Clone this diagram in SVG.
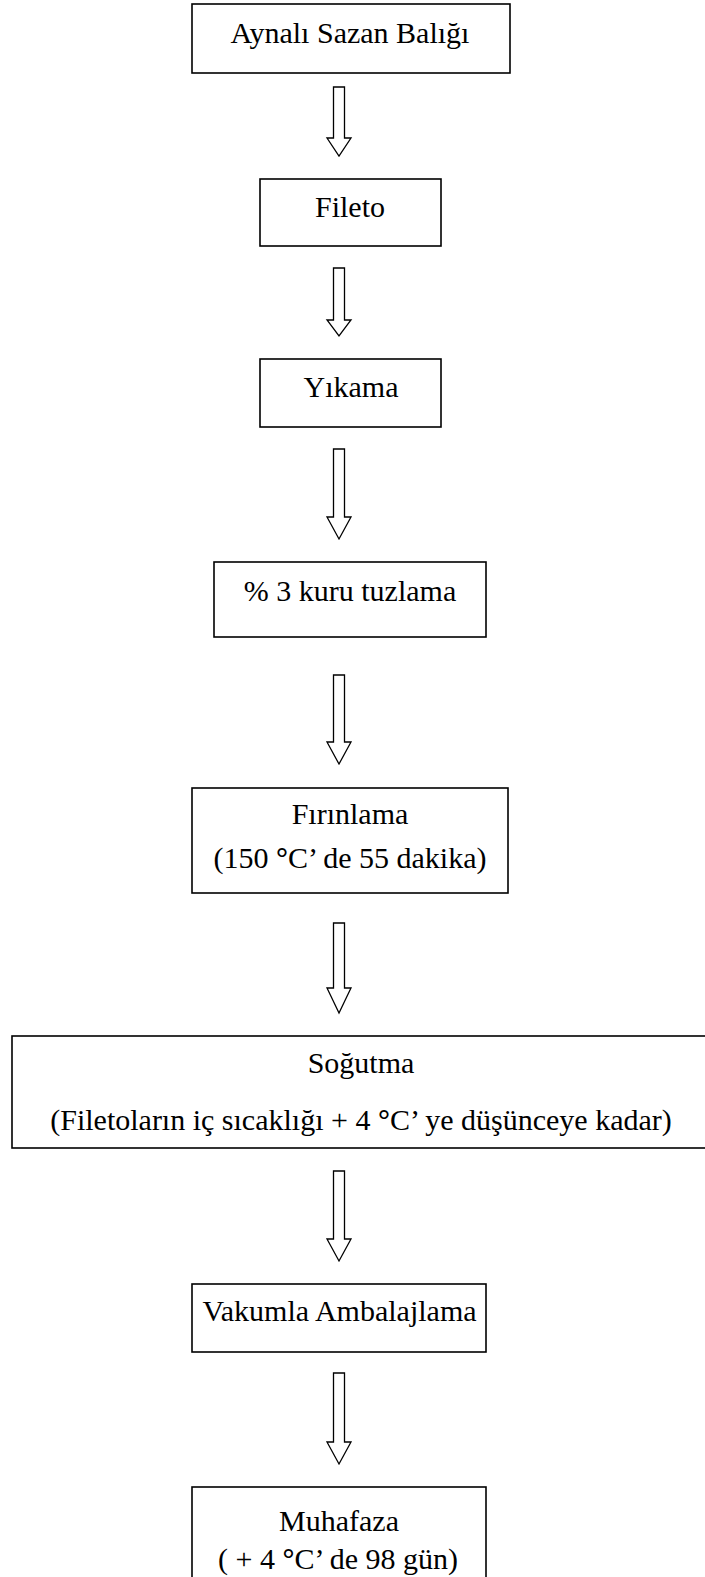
<svg xmlns="http://www.w3.org/2000/svg" width="705" height="1577" viewBox="0 0 705 1577">
<style>
.box{fill:#fff;stroke:#000;stroke-width:1.6}
.arr{fill:#fff;stroke:#000;stroke-width:1.3;stroke-linejoin:miter}
text{font-family:"Liberation Serif","Times New Roman",serif;font-size:30px;fill:#000;text-anchor:middle}
.deg{font-weight:bold}
</style>
<rect width="705" height="1577" fill="#fff"/>
<g id="n1"><rect class="box" x="192" y="4" width="318" height="69"/><text x="350" y="43">Aynalı Sazan Balığı</text></g>
<g id="n2"><rect class="box" x="260" y="179" width="181" height="67"/><text x="350" y="217">Fileto</text></g>
<g id="n3"><rect class="box" x="260" y="359" width="181" height="68"/><text x="351" y="397">Yıkama</text></g>
<g id="n4"><rect class="box" x="214" y="562" width="272" height="75"/><text x="350" y="601">% 3 kuru tuzlama</text></g>
<g id="n5"><rect class="box" x="192" y="788" width="316" height="105"/><text x="350" y="824">Fırınlama</text><text x="350" y="868">(150 <tspan class="deg">°</tspan>C’ de 55 dakika)</text></g>
<g id="n6"><rect class="box" x="12" y="1036" width="700" height="112"/><text x="361" y="1073">Soğutma</text><text x="361" y="1130">(Filetoların iç sıcaklığı + 4 <tspan class="deg">°</tspan>C’ ye düşünceye kadar)</text></g>
<g id="n7"><rect class="box" x="192" y="1284" width="294" height="68"/><text x="339.5" y="1321">Vakumla Ambalajlama</text></g>
<g id="n8"><rect class="box" x="192" y="1487" width="294" height="100"/><text x="339" y="1531">Muhafaza</text><text x="338" y="1569">( + 4 <tspan class="deg">°</tspan>C’ de 98 gün)</text></g>
<g id="connectors">
<polygon class="arr" points="333.5,87 344.5,87 344.5,138 351,138 339,156 327,138 333.5,138"/>
<polygon class="arr" points="333.5,268 344.5,268 344.5,320 351,320 339,336 327,320 333.5,320"/>
<polygon class="arr" points="333.5,449 344.5,449 344.5,517 351,517 339,539 327,517 333.5,517"/>
<polygon class="arr" points="333.5,675 344.5,675 344.5,742 351,742 339,764 327,742 333.5,742"/>
<polygon class="arr" points="333.5,923 344.5,923 344.5,988 351,988 339,1013 327,988 333.5,988"/>
<polygon class="arr" points="333.5,1171 344.5,1171 344.5,1239 351,1239 339,1261 327,1239 333.5,1239"/>
<polygon class="arr" points="333.5,1373 344.5,1373 344.5,1442 351,1442 339,1464 327,1442 333.5,1442"/>
</g>
</svg>
